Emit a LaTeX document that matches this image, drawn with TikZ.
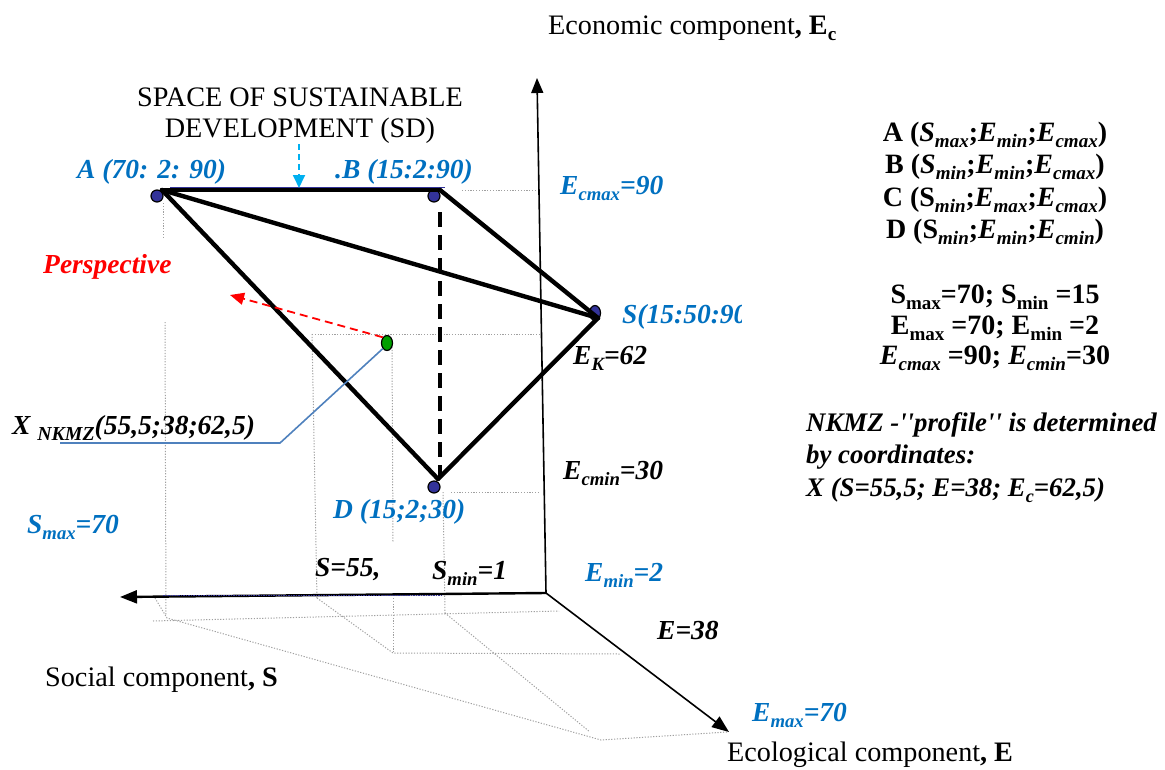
\documentclass[tikz,border=0pt]{standalone}
\usepackage{fontspec}
\setmainfont{Liberation Serif}
\newfontfamily\rawserif{Liberation Serif}[Ligatures=TeXOff]
\usetikzlibrary{arrows.meta,shapes.geometric}
\definecolor{labelblue}{HTML}{0070C0}
\definecolor{dotblue}{HTML}{333399}
\definecolor{leaderblue}{HTML}{4F81BD}
\definecolor{skyarrow}{HTML}{00B0F0}
\definecolor{guide}{HTML}{A0A0A0}
\definecolor{ptgreen}{HTML}{00A000}
\newcommand{\sbs}[1]{\raisebox{-0.22em}{\scalebox{0.68}{#1}}}
\begin{document}
\begin{tikzpicture}[x=1pt,y=-1pt,
  guideline/.style={guide, line width=1pt, dash pattern=on 1.2pt off 1.6pt},
  edge/.style={line width=4.4pt, line cap=round},
  vertex/.style={circle, draw, line width=1.2pt, fill=dotblue, minimum size=12pt, inner sep=0pt},
  lbl/.style={font=\fontsize{27.5}{31}\selectfont\bfseries\itshape, inner sep=0pt, anchor=west},
  bluelbl/.style={lbl, text=labelblue},
  plain/.style={font=\fontsize{28.2}{31}\selectfont, inner sep=0pt},
  note/.style={font=\fontsize{28}{31}\selectfont\bfseries, inner sep=0pt},
  profile/.style={lbl, font=\fontsize{26.8}{31}\selectfont\bfseries\itshape}
]
\useasboundingbox (0,0) rectangle (1165,769);

% axes
\coordinate (O) at (546,593);
\coordinate (Ectip) at (537,78);
\coordinate (Stip) at (120,597);
\coordinate (Etip) at (729,732);

% dotted construction lines
\coordinate (g1) at (462,190);   \coordinate (g2) at (535,190);
\coordinate (g3) at (163,203);   \coordinate (g4) at (163,238);
\coordinate (g5) at (165,322);   \coordinate (g6) at (166,616);
\coordinate (g7) at (312,334);   \coordinate (g8) at (540,334);
\coordinate (g9) at (317,598);
\coordinate (g10) at (392,347);  \coordinate (g11) at (393,542);
\coordinate (g12) at (393,598);  \coordinate (g13) at (393,653);
\coordinate (g14) at (451,492);  \coordinate (g15) at (540,492);
\coordinate (g16) at (443,492);  \coordinate (g17) at (445,613);
\coordinate (g18) at (153,621);  \coordinate (g19) at (559,611);
\coordinate (g20) at (155,598);  \coordinate (g21) at (167,618);
\coordinate (g22) at (601,740);  \coordinate (g23) at (727,732);
\coordinate (g24) at (620,654);  \coordinate (g25) at (590,732);
\draw[guideline] (g1) -- (g2);
\draw[guideline] (g3) -- (g4);
\draw[guideline] (g5) -- (g6);
\draw[guideline] (g7) -- (g8);
\draw[guideline] (g7) -- (g9);
\draw[guideline] (g10) -- (g11);
\draw[guideline] (g12) -- (g13);
\draw[guideline] (g14) -- (g15);
\draw[guideline] (g16) -- (g17);
\draw[guideline] (g18) -- (g19);
\draw[guideline] (g20) -- (g21) -- (g22) -- (g23);
\draw[guideline] (g9) -- (g13) -- (g24);
\draw[guideline] (g17) -- (g25);

\draw[line width=1.6pt, -{Triangle[length=15pt,width=12pt]}] (O) -- (Ectip);
\draw[line width=2.4pt, -{Triangle[length=17pt,width=13pt]}] (O) -- (Stip);
\draw[line width=1.6pt, -{Triangle[length=17pt,width=13pt]}] (O) -- (Etip);
\coordinate (sb1) at (163,595); \coordinate (sb2) at (441,595);
\draw[dotblue, line width=1pt, dash pattern=on 1.5pt off 1pt] (sb1) -- (sb2);

% vertices of the SD space
\node[vertex] (A) at (157,196) {};
\node[vertex] (B) at (434,196) {};
\node[vertex, ellipse, minimum width=11pt, minimum height=15pt] (C) at (595,313) {};
\node[vertex] (D) at (434,487) {};
\node[ellipse, draw, line width=1.2pt, fill=ptgreen, minimum width=11pt, minimum height=15pt, inner sep=0pt] (X) at (387,343) {};

\coordinate (a) at (162,190);
\coordinate (b) at (440,190);
\coordinate (c) at (598,318);
\coordinate (d) at (438,479);
\coordinate (bd) at (440,212);
\coordinate (db) at (440,476);
\coordinate (ab1) at (170,187); \coordinate (ab2) at (445,187);
\draw[dotblue, line width=1pt] (ab1) -- (ab2);
\draw[edge] (a) -- (b);
\draw[edge] (a) -- (c);
\draw[edge] (a) -- (d);
\draw[edge] (b) -- (c);
\draw[edge] (d) -- (c);
\draw[line width=4.4pt, dash pattern=on 15pt off 8pt] (bd) -- (db);

% arrows and leader
\coordinate (persp) at (230,295);
\draw[red, line width=1.8pt, dash pattern=on 8pt off 5pt, -{Triangle[length=14pt,width=12pt]}] (X.north west) -- (persp);
\coordinate (lead1) at (60,443);
\coordinate (lead2) at (280,443);
\draw[leaderblue, line width=1.6pt] (X.south west) -- (lead2) -- (lead1);

% title
\node[plain, align=center] (title) at (300,116) {SPACE OF SUSTAINABLE\\DEVELOPMENT (SD)};
\coordinate (sd) at (299,188);
\draw[skyarrow, line width=1.8pt, dash pattern=on 6pt off 4pt, -{Triangle[length=13pt,width=12pt]}] (title.south -| sd) -- (sd);

% axis names
\node[plain, anchor=west] (econ) at (548,28) {Economic component\textbf{, E\sbs{c}}};
\node[plain, anchor=west] (soc) at (45,680) {Social component\textbf{, S}};
\node[plain, anchor=west] (eco) at (727,755) {Ecological component\textbf{, E}};

% point labels
\node[bluelbl] (la) at (77,172) {A (70: 2: 90)};
\node[bluelbl] (lb) at (335,172) {.B (15:2:90)};
\node[bluelbl] (lecmax) at (560,188) {E\sbs{cmax}=90};
\begin{scope}
\clip (600,290) rectangle (741,345);
\node[bluelbl] (lc) at (622,317) {S(15:50:90)};
\end{scope}
\node[bluelbl] (ld) at (333,512) {D (15;2;30)};
\node[bluelbl] (lsmax) at (27,527) {S\sbs{max}=70};
\node[bluelbl] (lemin) at (585,575) {E\sbs{min}=2};
\node[bluelbl] (lemax) at (752,715) {E\sbs{max}=70};
\node[lbl] (lek) at (573,358) {E\sbs{K}=62};
\node[lbl] (lecmin) at (563,473) {E\sbs{cmin}=30};
\node[lbl] (ls55) at (315,570) {S=55,};
\node[lbl] (lsmin) at (432,573) {S\sbs{min}=1};
\node[lbl] (le38) at (657,630) {E=38};
\node[lbl] (lx) at (12,428) {X \raisebox{-0.2em}{\scalebox{0.72}{NKMZ}}(55,5;38;62,5)};
\node[lbl, text=red] (lpersp) at (43,267) {Perspective};

% legend on the right
\node[note] (n1) at (995,135) {A (\textit{S\sbs{max}};\textit{E\sbs{min}};\textit{E\sbs{cmax}})};
\node[note] (n2) at (995,167) {B (\textit{S\sbs{min}};\textit{E\sbs{min}};\textit{E\sbs{cmax}})};
\node[note] (n3) at (995,200) {C (S\sbs{\textit{min}};\textit{E\sbs{max}};\textit{E\sbs{cmax}})};
\node[note] (n4) at (995,232) {D (S\sbs{\textit{min}};\textit{E\sbs{min}};\textit{E\sbs{cmin}})};
\node[note] (n5) at (995,297) {S\sbs{max}=70; S\sbs{min} =15};
\node[note] (n6) at (995,328) {E\sbs{max} =70; E\sbs{min} =2};
\node[note] (n7) at (995,358) {\textit{E\sbs{cmax}} =90; \textit{E\sbs{cmin}}=30};
\node[profile] (p1) at (806,425) {NKMZ -{\rawserif''}profile{\rawserif''} is determined};
\node[profile] (p2) at (806,457) {by coordinates:};
\node[profile] (p3) at (806,490) {X (S=55,5; E=38; E\sbs{c}=62,5)};
\end{tikzpicture}
\end{document}
